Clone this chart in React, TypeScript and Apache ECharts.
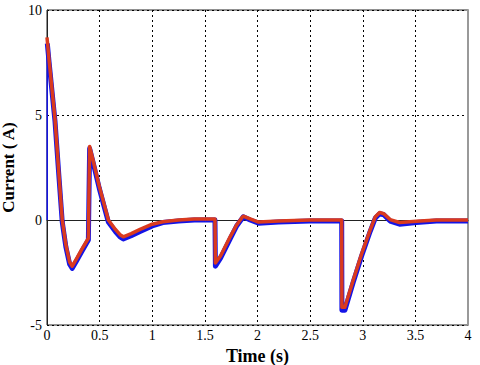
import React, { useEffect, useRef } from "react";
import * as echarts from "echarts";

// Time (s) and current (A) key points
const redTime = [0, 0.02, 0.05, 0.076, 0.11, 0.145, 0.18, 0.215, 0.24, 0.28, 0.33, 0.393, 0.405, 0.44, 0.497, 0.583, 0.65, 0.694, 0.725, 0.8, 0.884, 1.0, 1.1, 1.25, 1.4, 1.596, 1.6, 1.65, 1.74, 1.8, 1.85, 1.865, 1.93, 2.01, 2.2, 2.5, 2.8, 2.802, 2.83, 2.91, 2.99, 3.07, 3.12, 3.16, 3.2, 3.26, 3.35, 3.51, 3.7, 4.0];
const redValue = [8.7, 7.6, 6.1, 4.8, 2.4, 0, -1.2, -2.0, -2.2, -1.85, -1.4, -0.87, 3.5, 2.8, 1.6, 0, -0.45, -0.7, -0.8, -0.65, -0.45, -0.2, -0.08, 0, 0.05, 0.05, -2.05, -1.7, -0.8, -0.25, 0.1, 0.18, 0.05, -0.1, -0.05, 0, 0, -4.15, -4.15, -2.86, -1.6, -0.48, 0.16, 0.36, 0.3, 0.02, -0.12, -0.06, 0, 0];

const blueTime = [0.003, 0.02, 0.05, 0.076, 0.11, 0.145, 0.18, 0.215, 0.24, 0.28, 0.33, 0.393, 0.405, 0.44, 0.497, 0.583, 0.65, 0.694, 0.725, 0.8, 0.884, 1.0, 1.1, 1.25, 1.4, 1.596, 1.6, 1.65, 1.74, 1.8, 1.85, 1.865, 1.93, 2.01, 2.2, 2.5, 2.8, 2.802, 2.83, 2.91, 2.99, 3.07, 3.12, 3.16, 3.2, 3.26, 3.35, 3.51, 3.7, 4.0];
const blueValue = [8.4, 7.5, 6.0, 4.7, 2.3, -0.1, -1.3, -2.1, -2.3, -1.95, -1.5, -0.95, 3.4, 2.7, 1.5, -0.1, -0.55, -0.8, -0.9, -0.75, -0.55, -0.28, -0.12, -0.05, 0, 0, -2.2, -1.8, -0.9, -0.3, 0.05, 0.15, 0, -0.15, -0.1, -0.05, -0.05, -4.3, -4.3, -2.95, -1.7, -0.55, 0.1, 0.3, 0.25, -0.05, -0.2, -0.12, -0.05, -0.05];

// thin blue start-up edge along the left axis
const blueStartTime = [0.002, 0.002];
const blueStartValue = [0, 8.4];

const xTicks = { min: 0, max: 4, interval: 0.5 };
const yTicks = { min: -5, max: 10, interval: 5 };

const serif = "Liberation Serif";

export default function App() {
  const ref = useRef<HTMLDivElement>(null);
  useEffect(() => {
    document.body.style.margin = "0";
    const chart = echarts.init(ref.current!, null, { renderer: "svg" });
    const splitLine = {
      show: true,
      lineStyle: { color: "#000", type: [2, 3] as any, width: 1 },
    };
    const axisLabel = {
      fontFamily: serif,
      fontSize: 14,
      color: "#000",
    };
    chart.setOption({
      animation: false,
      backgroundColor: "#fff",
      textStyle: { fontFamily: serif },
      grid: {
        left: 47,
        right: 12,
        top: 10,
        bottom: 40,
        show: true,
        borderColor: "#222",
        borderWidth: 1,
        containLabel: false,
        outerBoundsMode: "none",
      },
      xAxis: {
        type: "value",
        min: xTicks.min,
        max: xTicks.max,
        interval: xTicks.interval,
        name: "Time (s)",
        nameLocation: "middle",
        nameGap: 18,
        nameTextStyle: { fontFamily: serif, fontSize: 18, fontWeight: "bold", color: "#000" },
        axisLine: { show: true, lineStyle: { color: "#222", width: 1 } },
        axisTick: { show: false },
        axisLabel: { ...axisLabel, margin: 3 },
        splitLine,
      },
      yAxis: [
        {
          type: "value",
          min: yTicks.min,
          max: yTicks.max,
          interval: yTicks.interval,
          name: "Current ( A)",
          nameLocation: "middle",
          nameGap: 21,
          nameTextStyle: { fontFamily: serif, fontSize: 17, fontWeight: "bold", color: "#000" },
          axisLine: { show: true, lineStyle: { color: "#222", width: 1 } },
          axisTick: { show: false },
          axisLabel: { ...axisLabel, margin: 5 },
          splitLine,
        },
        {
          type: "value",
          position: "right",
          min: yTicks.min,
          max: yTicks.max,
          interval: yTicks.interval,
          axisLine: { show: true, lineStyle: { color: "#999", width: 2 } },
          axisTick: { show: false },
          axisLabel: { show: false },
          splitLine: { show: false },
        },
      ],
      series: [
        {
          type: "line",
          data: blueStartTime.map((t, i) => [t, blueStartValue[i]]),
          showSymbol: false,
          lineStyle: { color: "#1414E6", width: 1.5 },
          z: 2,
        },
        {
          type: "line",
          data: blueTime.map((t, i) => [t, blueValue[i]]),
          showSymbol: false,
          lineStyle: { color: "#1414E6", width: 5, join: "round" },
          z: 2,
        },
        {
          type: "line",
          data: redTime.map((t, i) => [t, redValue[i]]),
          showSymbol: false,
          lineStyle: { color: "#DA3A1E", width: 3.5, join: "round" },
          z: 3,
        },
      ],
    });
    return () => chart.dispose();
  }, []);
  return <div ref={ref} style={{ width: 480, height: 365 }} />;
}
